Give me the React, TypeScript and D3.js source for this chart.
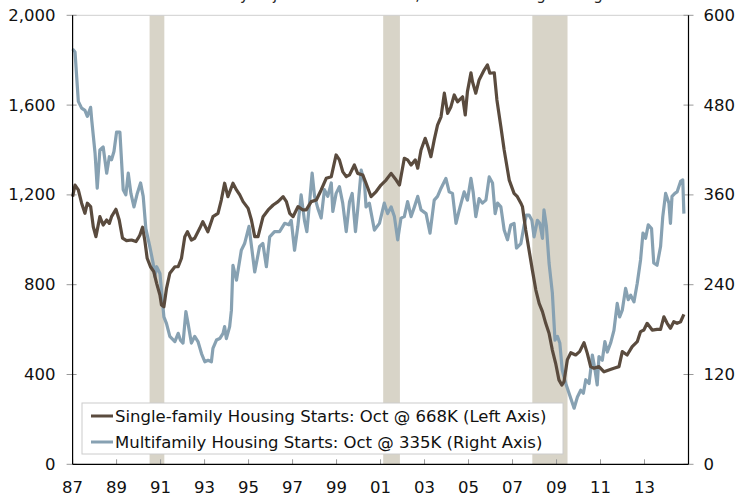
import React from 'react';
import * as d3 from 'd3';

// single-family starts, thousands SAAR (left axis)
const sfYears = [
  1987.0, 1987.11, 1987.26, 1987.41, 1987.56, 1987.67, 1987.82, 1987.94, 1988.06, 1988.24,
  1988.39, 1988.55, 1988.67, 1988.77, 1988.97, 1989.12, 1989.27, 1989.45, 1989.68, 1989.88,
  1989.98, 1990.06, 1990.18, 1990.28, 1990.39, 1990.54, 1990.69, 1990.82, 1990.97, 1991.04,
  1991.15, 1991.27, 1991.42, 1991.65, 1991.8, 1991.95, 1992.1, 1992.22, 1992.4, 1992.55,
  1992.78, 1992.92, 1993.15, 1993.38, 1993.61, 1993.76, 1993.91, 1994.06, 1994.29, 1994.45,
  1994.6, 1994.75, 1994.98, 1995.13, 1995.28, 1995.43, 1995.66, 1995.89, 1996.12, 1996.34,
  1996.57, 1996.72, 1996.87, 1997.02, 1997.25, 1997.47, 1997.62, 1997.85, 1998.08, 1998.3,
  1998.53, 1998.76, 1998.98, 1999.13, 1999.28, 1999.44, 1999.59, 1999.81, 1999.96, 2000.19,
  2000.34, 2000.57, 2000.8, 2001.02, 2001.25, 2001.48, 2001.71, 2001.86, 2002.08, 2002.23,
  2002.39, 2002.58, 2002.69, 2002.84, 2003.03, 2003.18, 2003.29, 2003.44, 2003.59, 2003.75,
  2003.9, 2004.05, 2004.2, 2004.35, 2004.5, 2004.73, 2004.85, 2004.95, 2005.11, 2005.18,
  2005.33, 2005.48, 2005.71, 2005.86, 2005.97, 2006.17, 2006.29, 2006.47, 2006.62, 2006.85,
  2007.07, 2007.22, 2007.38, 2007.45, 2007.6, 2007.75, 2007.9, 2008.06, 2008.21, 2008.36,
  2008.51, 2008.66, 2008.81, 2008.96, 2009.11, 2009.24, 2009.34, 2009.49, 2009.65, 2009.87,
  2010.05, 2010.25, 2010.4, 2010.55, 2010.7, 2010.93, 2011.16, 2011.38, 2011.61, 2011.84,
  2011.99, 2012.21, 2012.44, 2012.67, 2012.82, 2012.97, 2013.12, 2013.35, 2013.57, 2013.73,
  2013.88, 2014.03, 2014.18, 2014.33, 2014.48, 2014.64, 2014.79,
];
const sfValues = [
  1192, 1244, 1222, 1163, 1118, 1163, 1148, 1058, 1014, 1103,
  1066, 1088, 1073, 1103, 1136, 1088, 1007, 996, 999, 992,
  1007, 1021, 1056, 999, 918, 880, 858, 806, 754, 710,
  702, 784, 851, 880, 880, 918, 1014, 1036, 999, 1007,
  1051, 1081, 1036, 1103, 1118, 1177, 1252, 1192, 1252, 1222,
  1200, 1170, 1140, 1088, 1014, 1014, 1103, 1133, 1155, 1170,
  1192, 1170, 1118, 1103, 1148, 1133, 1133, 1170, 1177, 1222,
  1274, 1281, 1378, 1356, 1304, 1281, 1289, 1333, 1296, 1289,
  1252, 1192, 1215, 1244, 1266, 1296, 1266, 1244, 1363, 1356,
  1333, 1356, 1319, 1400, 1452, 1408, 1370, 1445, 1511, 1548,
  1653, 1563, 1593, 1645, 1615, 1637, 1556, 1660, 1744, 1704,
  1653, 1712, 1756, 1779, 1742, 1744, 1623, 1504, 1400, 1266,
  1207, 1192, 1163, 1148, 1044, 955, 866, 776, 717, 680,
  628, 584, 509, 450, 376, 353, 368, 465, 497, 487,
  502, 542, 494, 435, 428, 435, 412, 420, 428, 435,
  502, 487, 524, 546, 591, 598, 628, 598, 601, 601,
  657, 628, 606, 635, 628, 635, 668,
];

// multifamily starts, thousands SAAR (right axis)
const mfYears = [
  1987.0, 1987.11, 1987.26, 1987.41, 1987.56, 1987.67, 1987.82, 1987.87, 1988.02, 1988.12,
  1988.24, 1988.39, 1988.55, 1988.67, 1988.77, 1988.88, 1989.0, 1989.15, 1989.3, 1989.42,
  1989.53, 1989.65, 1989.79, 1989.94, 1990.09, 1990.21, 1990.33, 1990.51, 1990.66, 1990.74,
  1990.82, 1990.97, 1991.15, 1991.27, 1991.42, 1991.65, 1991.8, 1991.9, 1992.02, 1992.15,
  1992.25, 1992.4, 1992.55, 1992.7, 1992.86, 1993.01, 1993.16, 1993.31, 1993.38, 1993.54,
  1993.69, 1993.84, 1993.91, 1993.99, 1994.14, 1994.22, 1994.29, 1994.45, 1994.67, 1994.82,
  1995.02, 1995.28, 1995.5, 1995.65, 1995.81, 1995.96, 1996.18, 1996.41, 1996.64, 1996.83,
  1996.94, 1997.09, 1997.24, 1997.39, 1997.54, 1997.65, 1997.77, 1997.89, 1998.0, 1998.15,
  1998.3, 1998.45, 1998.6, 1998.76, 1998.83, 1998.98, 1999.13, 1999.28, 1999.44, 1999.59,
  1999.71, 1999.86, 1999.96, 2000.12, 2000.27, 2000.34, 2000.49, 2000.72, 2000.95, 2001.17,
  2001.32, 2001.48, 2001.63, 2001.78, 2001.93, 2002.08, 2002.23, 2002.39, 2002.54, 2002.69,
  2002.84, 2003.07, 2003.25, 2003.44, 2003.59, 2003.75, 2003.97, 2004.12, 2004.27, 2004.43,
  2004.58, 2004.8, 2004.95, 2005.11, 2005.21, 2005.33, 2005.48, 2005.63, 2005.79, 2005.94,
  2006.09, 2006.21, 2006.32, 2006.47, 2006.62, 2006.77, 2006.92, 2007.07, 2007.18, 2007.38,
  2007.53, 2007.63, 2007.75, 2007.88, 2007.98, 2008.13, 2008.24, 2008.36, 2008.43, 2008.54,
  2008.66, 2008.81, 2008.93, 2009.04, 2009.15, 2009.26, 2009.42, 2009.57, 2009.8, 2009.95,
  2010.1, 2010.22, 2010.33, 2010.48, 2010.63, 2010.75, 2010.85, 2010.93, 2011.08, 2011.2,
  2011.31, 2011.46, 2011.61, 2011.76, 2011.87, 2011.99, 2012.14, 2012.26, 2012.37, 2012.52,
  2012.67, 2012.82, 2012.93, 2013.05, 2013.17, 2013.32, 2013.42, 2013.57, 2013.73, 2013.83,
  2013.96, 2014.11, 2014.18, 2014.25, 2014.38, 2014.48, 2014.56, 2014.64, 2014.74, 2014.79,
];
const mfValues = [
  555, 551, 485, 476, 473, 465, 477, 460, 416, 369,
  420, 424, 389, 411, 407, 418, 444, 444, 367, 360,
  389, 362, 344, 362, 376, 358, 315, 291, 269, 251,
  264, 255, 197, 188, 171, 164, 175, 166, 162, 204,
  188, 162, 171, 164, 148, 137, 139, 137, 155, 166,
  168, 175, 184, 168, 184, 206, 266, 246, 286, 295,
  318, 257, 291, 295, 264, 304, 311, 311, 322, 320,
  326, 286, 318, 360, 326, 311, 349, 389, 358, 342,
  329, 367, 358, 376, 338, 362, 371, 349, 311, 351,
  362, 311, 340, 393, 376, 344, 349, 313, 322, 349,
  335, 344, 331, 300, 329, 331, 351, 331, 344, 358,
  340, 335, 309, 353, 358, 369, 382, 364, 362, 322,
  340, 364, 353, 382, 364, 331, 355, 349, 353, 384,
  376, 335, 349, 344, 313, 300, 320, 322, 289, 295,
  320, 333, 333, 326, 304, 326, 322, 302, 340, 318,
  269, 229, 166, 171, 162, 126, 108, 95, 75, 90,
  99, 95, 113, 108, 146, 126, 106, 144, 139, 164,
  150, 162, 179, 215, 197, 206, 235, 220, 226, 217,
  242, 273, 309, 302, 320, 315, 269, 266, 291, 331,
  362, 349, 322, 358, 362, 364, 371, 378, 380, 335,
];

// recessions (start, end) in decimal years
const recessionStart = [1990.5, 2001.12, 2007.9];
const recessionEnd = [1991.17, 2001.88, 2009.5];

const leftTicks = [0, 400, 800, 1200, 1600, 2000];
const rightTicks = [0, 120, 240, 360, 480, 600];
const yearTicks = d3.range(1987, 2016, 2);
const yearLabels = ['87', '89', '91', '93', '95', '97', '99', '01', '03', '05', '07', '09', '11', '13', ''];

const legendItems = [
  { label: 'Single-family Housing Starts: Oct @ 668K (Left Axis)', color: '#5a4b3e' },
  { label: 'Multifamily Housing Starts: Oct @ 335K (Right Axis)', color: '#87a1b2' },
];

const W = 735;
const H = 498;
const margin = { top: 15.3, right: 46.5, bottom: 33.7, left: 72.6 };
const FONT = '"DejaVu Sans", Verdana, sans-serif';

export default function App() {
  const x = d3.scaleLinear().domain([1987, 2015]).range([margin.left, W - margin.right]);
  const yL = d3.scaleLinear().domain([0, 2000]).range([H - margin.bottom, margin.top]);
  const yR = d3.scaleLinear().domain([0, 600]).range([H - margin.bottom, margin.top]);

  const sf = sfYears.map((t, i) => [t, sfValues[i]] as [number, number]);
  const mf = mfYears.map((t, i) => [t, mfValues[i]] as [number, number]);

  const sfLine = d3.line<[number, number]>().x((d) => x(d[0])).y((d) => yL(d[1]));
  const mfLine = d3.line<[number, number]>().x((d) => x(d[0])).y((d) => yR(d[1]));

  const x0 = x.range()[0];
  const x1 = x.range()[1];
  const yb = yL(0);
  const yt = yL(2000);

  return (
    <svg width={W} height={H} style={{ position: 'absolute', left: 0, top: 0 }} fontFamily={FONT}>
      <rect width={W} height={H} fill="#fff" />
      {/* title sits above the crop, only descenders show */}
      <text x={390} y={0} textAnchor="middle" fontSize={15} fill="#222">
        Seasonally Adjusted Annual Rate, 3-Month Moving Average
      </text>

      {recessionStart.map((s, i) => (
        <rect key={i} x={x(s)} y={yt} width={x(recessionEnd[i]) - x(s)} height={yb - yt} fill="#d8d4c8" />
      ))}

      <line x1={x0} x2={x1} y1={yt} y2={yt} stroke="#cfcfcf" strokeWidth={1} />

      {/* left axis */}
      {leftTicks.map((v) => (
        <g key={'l' + v}>
          <line x1={x0 - 6} x2={x0 + 4} y1={yL(v)} y2={yL(v)} stroke="#999" />
          <text x={x0 - 17} y={yL(v)} textAnchor="end" dominantBaseline="central" fontSize={16.5} fill="#111">
            {d3.format(',')(v)}
          </text>
        </g>
      ))}
      {/* right axis */}
      {rightTicks.map((v) => (
        <g key={'r' + v}>
          <line x1={x1 - 5} x2={x1 + 5} y1={yR(v)} y2={yR(v)} stroke="#999" />
          <text x={x1 + 15} y={yR(v)} textAnchor="start" dominantBaseline="central" fontSize={16.5} fill="#111">
            {v}
          </text>
        </g>
      ))}
      {/* bottom axis */}
      {yearTicks.map((t, i) => (
        <g key={'x' + t}>
          <line x1={x(t)} x2={x(t)} y1={yb - 5} y2={yb} stroke="#999" />
          <text x={x(t)} y={yb + 29} textAnchor="middle" fontSize={16.5} fill="#111">
            {yearLabels[i]}
          </text>
        </g>
      ))}

      <path d={mfLine(mf) ?? ''} fill="none" stroke="#87a1b2" strokeWidth={3.2} strokeLinejoin="round" />
      <path d={sfLine(sf) ?? ''} fill="none" stroke="#5a4b3e" strokeWidth={3.2} strokeLinejoin="round" />

      <line x1={x0} x2={x0} y1={yt} y2={yb} stroke="#000" strokeWidth={1.2} />
      <line x1={x1} x2={x1} y1={yt} y2={yb} stroke="#000" strokeWidth={1.2} />
      <line x1={x0} x2={x1} y1={yb} y2={yb} stroke="#000" strokeWidth={1.2} />

      {/* legend */}
      <g transform="translate(82,403)">
        <rect width={481} height={51} fill="#fff" stroke="#cccccc" />
        {legendItems.map((d, i) => (
          <g key={d.label} transform={`translate(0,${13 + i * 26})`}>
            <line x1={9} x2={31} y1={0} y2={0} stroke={d.color} strokeWidth={3} />
            <text x={33} y={0} dominantBaseline="central" fontSize={16.5} fill="#111">
              {d.label}
            </text>
          </g>
        ))}
      </g>
    </svg>
  );
}
